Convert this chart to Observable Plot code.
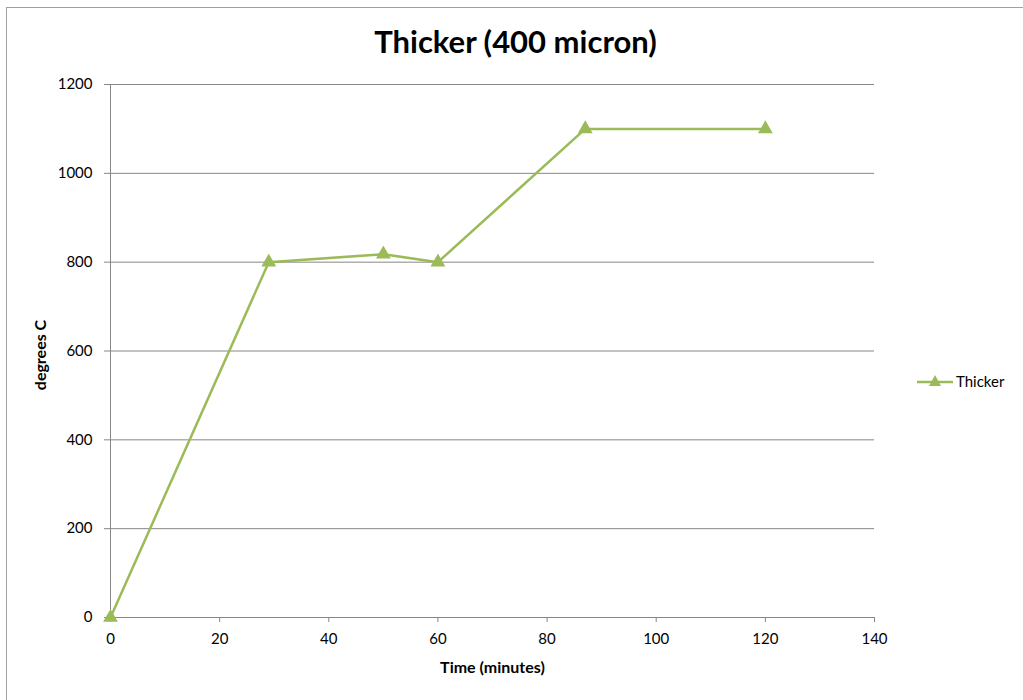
<!DOCTYPE html>
<html>
<head>
<meta charset="utf-8">
<script src="https://cdn.jsdelivr.net/npm/d3@7"></script>
<script src="https://cdn.jsdelivr.net/npm/@observablehq/plot@0.6"></script>
<style>
  html, body { margin: 0; padding: 0; background: #fff; }
  #wrap { position: relative; width: 1023px; height: 700px; overflow: hidden; font-family: Lato, "Open Sans", sans-serif; }
  #frame { position: absolute; left: 6px; top: 7px; width: 1030px; height: 700px; border-left: 1px solid #a0a0a0; border-top: 1px solid #a0a0a0; box-sizing: border-box; }
  #chart { position: absolute; left: 0; top: 0; }
  #legend { position: absolute; left: 916px; top: 372px; display: flex; align-items: center; font-size: 15px; color: #000; }
</style>
</head>
<body>
<div id="wrap">
  <div id="frame"></div>
  <div id="chart"></div>
  <div id="legend"></div>
</div>
<script>
const title = "Thicker (400 micron)";
const seriesName = "Thicker";
const times = [0, 29, 50, 60, 87, 120];
const temps = [0, 800, 818, 800, 1100, 1100];
const xTicks = [0, 20, 40, 60, 80, 100, 120, 140];
const yTicks = [0, 200, 400, 600, 800, 1000, 1200];
const xLabel = "Time (minutes)";
const yLabel = "degrees C";

const green = "#9BBB59";
const data = times.map((t, i) => ({t, v: temps[i]}));

const chart = Plot.plot({
  width: 1023,
  height: 700,
  marginLeft: 110,
  marginRight: 149,
  marginTop: 84,
  marginBottom: 83,
  style: { fontFamily: "Lato, 'Open Sans', sans-serif", fontSize: "15px", color: "#000", background: "transparent" },
  x: { domain: [0, 140], ticks: xTicks },
  y: { domain: [0, 1200], ticks: yTicks },
  marks: [
    Plot.gridY(yTicks, { stroke: "#868686", strokeOpacity: 1 }),
    Plot.ruleX([0], { stroke: "#868686" }),
    Plot.ruleY([0], { stroke: "#868686" }),
    Plot.axisY(yTicks, { tickSize: 6, tickPadding: 12, stroke: "#868686", label: null, fontSize: 15, fill: "#000", tickFormat: d => String(d) }),
    Plot.axisX(xTicks, { tickSize: 5, tickPadding: 11, stroke: "#868686", label: null, fontSize: 15, fill: "#000", tickFormat: d => String(d) }),
    Plot.line(data, { x: "t", y: "v", stroke: green, strokeWidth: 2.5 }),
    Plot.dot(data, { x: "t", y: "v", symbol: "triangle", fill: green, r: 5.5 }),
    Plot.text([title], { frameAnchor: "top", lineAnchor: "middle", dy: -41, dx: 23, fontSize: 31, fontWeight: "bold", fill: "#000" }),
    Plot.text([xLabel], { frameAnchor: "bottom", lineAnchor: "middle", dy: 50, fontSize: 16, fontWeight: "bold", fill: "#000" }),
    Plot.text([yLabel], { frameAnchor: "left", textAnchor: "middle", lineAnchor: "middle", dx: -70, dy: 4, rotate: -90, fontSize: 16, fontWeight: "bold", fill: "#000" })
  ]
});
document.getElementById("chart").appendChild(chart);

const legend = document.getElementById("legend");
legend.innerHTML = `<svg width="38" height="16" style="margin-right:2px"><line x1="1" y1="9" x2="37" y2="9" stroke="${green}" stroke-width="2.5"/><path d="M19,2 L25,13 L13,13 Z" fill="${green}"/></svg><span>${seriesName}</span>`;
</script>
</body>
</html>
